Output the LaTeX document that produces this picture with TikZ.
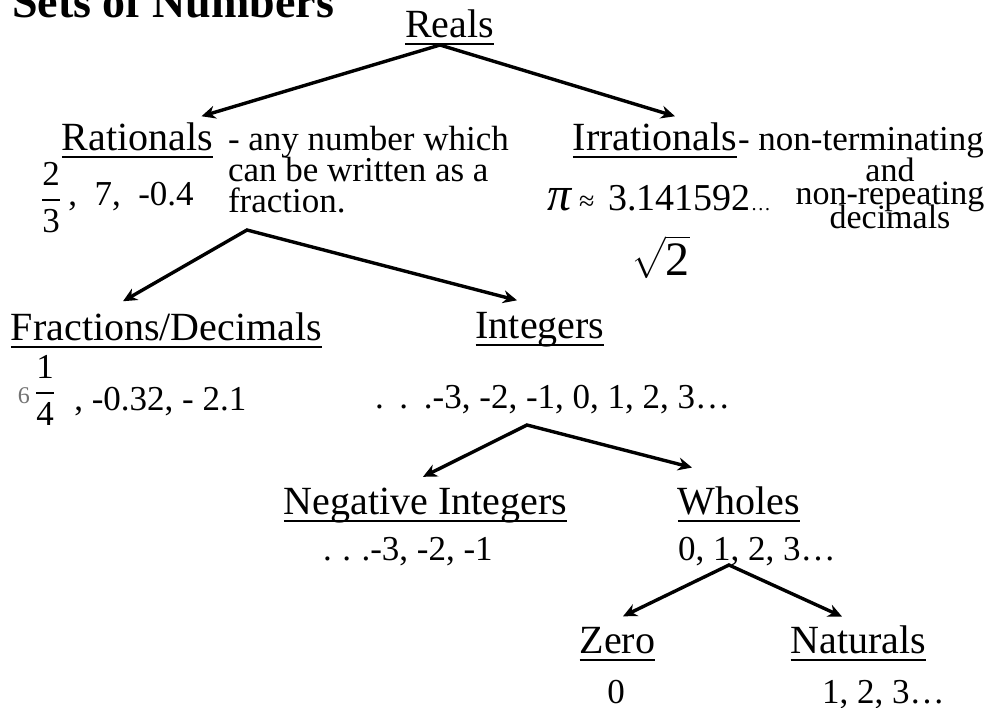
\documentclass[tikz,border=0pt]{standalone}
\usepackage{amsmath}
\usepackage{fontspec}
\setmainfont{Liberation Serif}
\usetikzlibrary{arrows.meta}
\definecolor{SetsInk}{gray}{0}
\definecolor{SetsFaint}{gray}{0.45}
\newcommand{\bigfrac}[2]{$\dfrac{\mbox{#1}}{\mbox{#2}}$}
\newcommand{\tightlines}{\lineskiplimit=-100pt\relax}
\tikzset{
    sets/diagram/.style={
        x=0.5pt, y=-0.5pt,
        text=SetsInk,
        every node/.style={inner sep=0pt, outer sep=0pt}
    },
    sets/title/.style={font=\fontsize{23}{23}\selectfont\bfseries, anchor=base west},
    sets/rule/.style={draw=SetsInk, line width=1pt},
    sets/name/.style={
        font=\fontsize{20}{20}\selectfont, anchor=base,
        append after command={
            ([yshift=-3.3pt]\tikzlastnode.base west) edge[sets/rule]
            ([yshift=-3.3pt]\tikzlastnode.base east)
        }
    },
    sets/text/.style={font=\fontsize{17.5}{15.5}\selectfont\tightlines, anchor=base west},
    sets/fork/.style={
        draw=SetsInk, line width=1.7pt, line join=miter,
        {Stealth[length=7pt, width=6.5pt]}-{Stealth[length=7pt, width=6.5pt]}
    }
}
\begin{document}
\begin{tikzpicture}[sets/diagram]
    \path[fill=white, use as bounding box] (0,0) rectangle (993,708);
    \node[sets/title] (Title) at (12,17) {Sets of Numbers};
    \node[sets/name] (Reals) at (449.5,37) {Reals};
    \node[sets/name] (Rationals) at (137.5,150) {Rationals};
    % multi-line nodes sit on their last line
    \node[sets/text, align=left] (RatNote) at (228,212)
        {- any number which\\can be written as a\\fraction.};
    \node[sets/text] (RatEx) at (40,205)
        {\raisebox{-1.9pt}{\bigfrac{2}{3}}\hspace{3pt},~~7,~~-0.4};
    \node[sets/name] (Irrationals) at (655,150) {Irrationals};
    \node[sets/text] (IrrNote) at (738,150) {- non-terminating};
    \node[sets/text, font=\fontsize{17}{11.75}\selectfont\tightlines,
        align=center, anchor=base] (IrrMore) at (890,228) {and\\non-repeating\\decimals};
    \node[sets/text] (PiEx) at (547,210)
        {{\fontsize{24}{24}\selectfont\itshape π}\hspace{4pt}{\fontsize{14}{14}\selectfont ≈}\hspace{7pt}{\fontsize{19}{19}\selectfont 3.141592}{\fontsize{10}{10}\selectfont\ldots}};
    \node[sets/text] (SqrtEx) at (631,275)
        {$\sqrt{\mbox{\fontsize{24}{24}\selectfont 2}}$};
    \node[sets/name] (Fractions) at (166.5,340) {Fractions/Decimals};
    \node[sets/text] (FracEx) at (18,410)
        {\raisebox{3.5pt}{\fontsize{12}{12}\selectfont\color{SetsFaint}6}\hspace{2pt}\raisebox{4.1pt}{\bigfrac{1}{4}}\hspace{9pt}, -0.32, - 2.1};
    \node[sets/name] (Integers) at (540,338) {Integers};
    \node[sets/text] (IntEx) at (375,408)
        {.\hspace{0.45em}.\hspace{0.45em}.-3, -2, -1, 0, 1, 2, 3\ldots};
    \node[sets/name] (Negatives) at (425.5,514) {Negative Integers};
    \node[sets/text] (NegEx) at (323,560) {.\hspace{0.3em}.\hspace{0.3em}.-3, -2, -1};
    \node[sets/name] (Wholes) at (739,514) {Wholes};
    \node[sets/text] (WholeEx) at (678,560) {0, 1, 2, 3\ldots};
    \node[sets/name] (Zero) at (617.5,653) {Zero};
    \node[sets/text, anchor=base] (ZeroEx) at (616,703) {0};
    \node[sets/name] (Naturals) at (858.5,653) {Naturals};
    \node[sets/text] (NatEx) at (822,703) {1, 2, 3\ldots};
    \coordinate (RealsFork) at (440,45);
    \coordinate (RatFork) at (247,230);
    \coordinate (IntFork) at (527,425);
    \coordinate (WholeFork) at (729,565);
    \draw[sets/fork] ([xshift=32pt,yshift=3pt]Rationals.north) -- (RealsFork)
        -- ([xshift=10pt,yshift=3pt]Irrationals.north);
    \draw[sets/fork] ([xshift=-21.75pt,yshift=5.5pt]Fractions.north) -- (RatFork)
        -- ([xshift=-11.5pt,yshift=5.75pt]Integers.north);
    \draw[sets/fork] ([xshift=-1.25pt,yshift=5.35pt]Negatives.north) -- (IntFork)
        -- ([xshift=-23.5pt,yshift=9.35pt]Wholes.north);
    \draw[sets/fork] ([xshift=2.75pt,yshift=5.25pt]Zero.north) -- (WholeFork)
        -- ([xshift=-8.25pt,yshift=4.35pt]Naturals.north);
\end{tikzpicture}
\end{document}
